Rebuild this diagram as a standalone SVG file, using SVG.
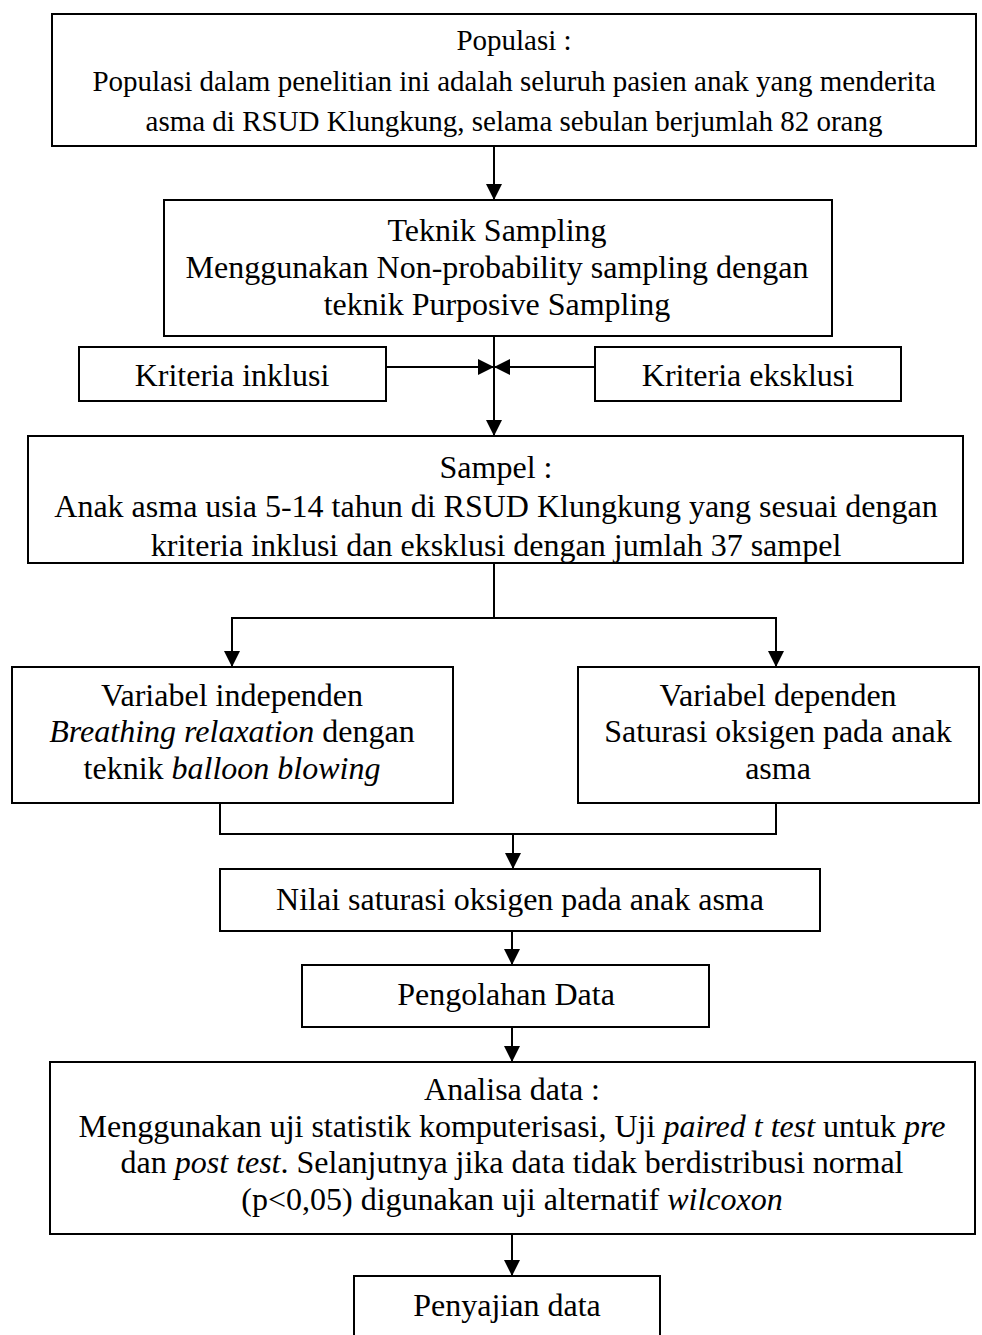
<svg xmlns="http://www.w3.org/2000/svg" width="982" height="1335" viewBox="0 0 982 1335">
<style>
.box{fill:#fff;stroke:#000;stroke-width:2}
.t{font-family:"Liberation Serif","Times New Roman",serif;font-size:32px;fill:#000;text-anchor:middle}
.s{font-size:29px}
.i{font-style:italic}
.c{fill:none;stroke:#000;stroke-width:2}
</style>
<defs>
<marker id="ah" viewBox="0 0 16 16" refX="16" refY="8" markerWidth="16" markerHeight="16" markerUnits="userSpaceOnUse" orient="auto">
<path d="M0,0 L16,8 L0,16 Z" fill="#000"/>
</marker>
</defs>
<rect width="982" height="1335" fill="#fff"/>
<g id="connectors">
<line class="c" x1="494" y1="146" x2="494" y2="200" marker-end="url(#ah)"/>
<line class="c" x1="494" y1="336" x2="494" y2="436" marker-end="url(#ah)"/>
<line class="c" x1="386" y1="367" x2="494" y2="367" marker-end="url(#ah)"/>
<line class="c" x1="595" y1="367" x2="494" y2="367" marker-end="url(#ah)"/>
<polyline class="c" points="494,563 494,618"/>
<polyline class="c" points="232,667 232,618 776,618 776,667"/>
<line class="c" x1="232" y1="640" x2="232" y2="667" marker-end="url(#ah)"/>
<line class="c" x1="776" y1="640" x2="776" y2="667" marker-end="url(#ah)"/>
<polyline class="c" points="220,803 220,834 776,834 776,803"/>
<line class="c" x1="513" y1="834" x2="513" y2="869" marker-end="url(#ah)"/>
<line class="c" x1="512" y1="931" x2="512" y2="965" marker-end="url(#ah)"/>
<line class="c" x1="512" y1="1027" x2="512" y2="1062" marker-end="url(#ah)"/>
<line class="c" x1="512" y1="1234" x2="512" y2="1276" marker-end="url(#ah)"/>
</g>
<g id="populasi">
<rect class="box" x="52" y="14" width="924" height="132"/>
<text class="t s" x="514" y="50">Populasi :</text>
<text class="t s" x="514" y="91">Populasi dalam penelitian ini adalah seluruh pasien anak yang menderita</text>
<text class="t s" x="514" y="131">asma di RSUD Klungkung, selama sebulan berjumlah 82 orang</text>
</g>
<g id="teknik">
<rect class="box" x="164" y="200" width="668" height="136"/>
<text class="t" x="497" y="241">Teknik Sampling</text>
<text class="t" x="497" y="278">Menggunakan Non-probability sampling dengan</text>
<text class="t" x="497" y="315">teknik Purposive Sampling</text>
</g>
<g id="inklusi">
<rect class="box" x="79" y="347" width="307" height="54"/>
<text class="t" x="232" y="386">Kriteria inklusi</text>
</g>
<g id="eksklusi">
<rect class="box" x="595" y="347" width="306" height="54"/>
<text class="t" x="748" y="386">Kriteria eksklusi</text>
</g>
<g id="sampel">
<rect class="box" x="28" y="436" width="935" height="127"/>
<text class="t" x="496" y="478">Sampel :</text>
<text class="t" x="496" y="517">Anak asma usia 5-14 tahun di RSUD Klungkung yang sesuai dengan</text>
<text class="t" x="496" y="556">kriteria inklusi dan eksklusi dengan jumlah 37 sampel</text>
<line class="c" x1="28" y1="563" x2="963" y2="563"/>
</g>
<g id="independen">
<rect class="box" x="12" y="667" width="441" height="136"/>
<text class="t" x="232" y="706">Variabel independen</text>
<text class="t" x="232" y="742"><tspan class="i">Breathing relaxation</tspan> dengan</text>
<text class="t" x="232" y="779">teknik <tspan class="i">balloon blowing</tspan></text>
</g>
<g id="dependen">
<rect class="box" x="578" y="667" width="401" height="136"/>
<text class="t" x="778" y="706">Variabel dependen</text>
<text class="t" x="778" y="742">Saturasi oksigen pada anak</text>
<text class="t" x="778" y="779">asma</text>
</g>
<g id="nilai">
<rect class="box" x="220" y="869" width="600" height="62"/>
<text class="t" x="520" y="910">Nilai saturasi oksigen pada anak asma</text>
</g>
<g id="pengolahan">
<rect class="box" x="302" y="965" width="407" height="62"/>
<text class="t" x="506" y="1005">Pengolahan Data</text>
</g>
<g id="analisa">
<rect class="box" x="50" y="1062" width="925" height="172"/>
<text class="t" x="512" y="1100">Analisa data :</text>
<text class="t" x="512" y="1137">Menggunakan uji statistik komputerisasi, Uji <tspan class="i">paired t test</tspan> untuk <tspan class="i">pre</tspan></text>
<text class="t" x="512" y="1173">dan <tspan class="i">post test</tspan>. Selanjutnya jika data tidak berdistribusi normal</text>
<text class="t" x="512" y="1210">(p&lt;0,05) digunakan uji alternatif <tspan class="i">wilcoxon</tspan></text>
</g>
<g id="penyajian">
<rect class="box" x="354" y="1276" width="306" height="70"/>
<text class="t" x="507" y="1316">Penyajian data</text>
</g>
</svg>
